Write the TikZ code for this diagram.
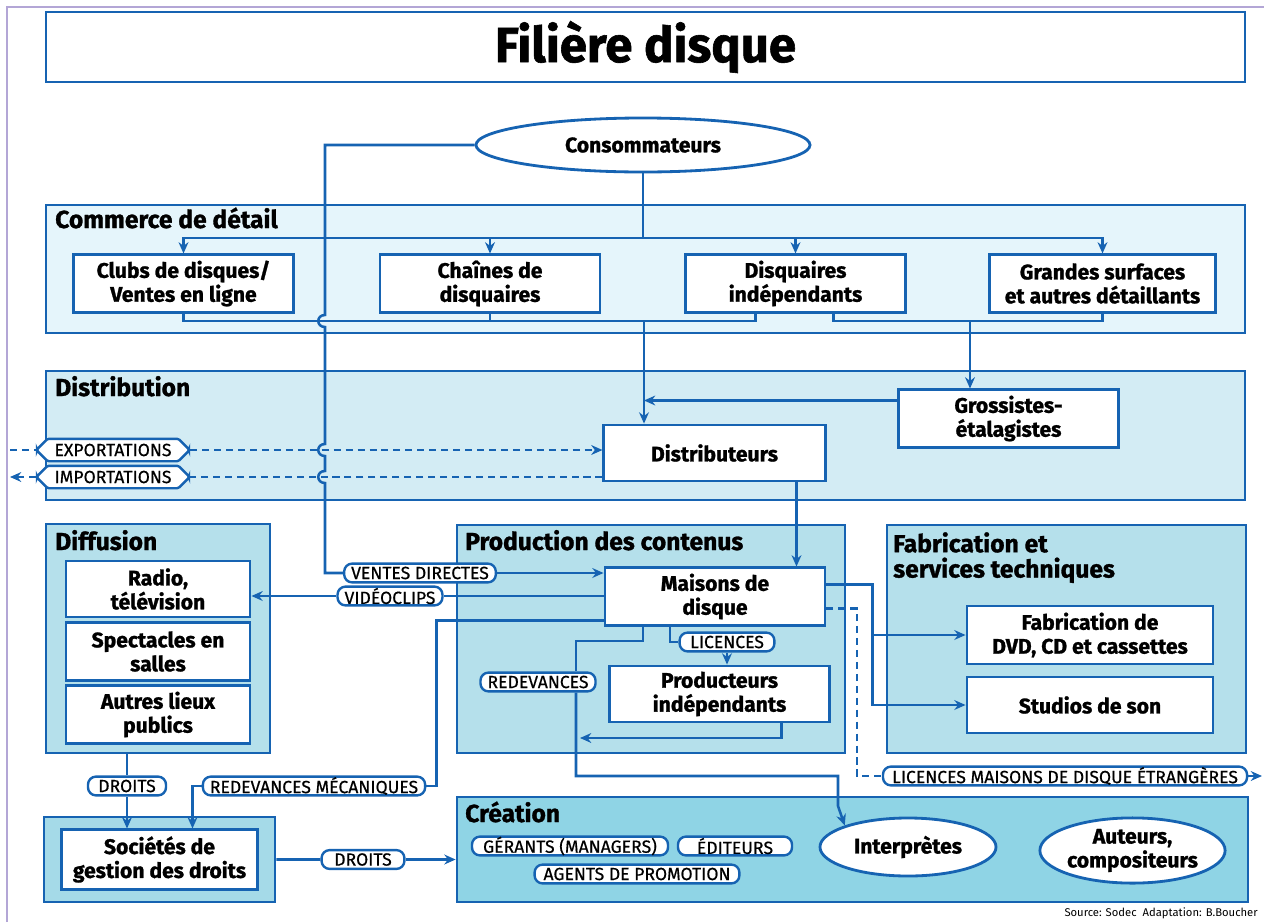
\documentclass[tikz,border=0pt]{standalone}
\usepackage{fontspec}
\setmainfont{Fira Sans}[BoldFeatures={FakeBold=1.2}]
\newfontfamily\etiqfont{Fira Sans}[FakeBold=0.5]
\usetikzlibrary{arrows.meta,calc,fit,shapes.geometric,shapes.misc}

\definecolor{bleu}{HTML}{1663B2}
\definecolor{fondA}{HTML}{E5F5FB}
\definecolor{fondB}{HTML}{D3ECF4}
\definecolor{fondC}{HTML}{B5E0EB}
\definecolor{fondD}{HTML}{A5DAE8}
\definecolor{fondE}{HTML}{8FD4E5}
\definecolor{mauve}{HTML}{B3A6D6}

\tikzset{
  cadre/.style={draw=bleu, line width=2pt, inner sep=0pt},
  boite/.style={draw=bleu, line width=2pt, fill=white, align=center,
    font=\fontsize{15}{17}\selectfont\bfseries, inner sep=2pt},
  bulle/.style={ellipse, draw=bleu, line width=2pt, fill=white, align=center,
    font=\fontsize{15}{17}\selectfont\bfseries, inner sep=0pt},
  etiq/.style={draw=bleu, line width=1.7pt, fill=white, rounded corners=0.2cm,
    font=\fontsize{12.5}{13}\selectfont\etiqfont, inner xsep=5pt, inner ysep=0pt,
    minimum height=0.47cm},
  pointe/.style={etiq, rounded corners=1pt, chamfered rectangle,
    chamfered rectangle xsep=4pt},
  titre/.style={anchor=base west, font=\fontsize{17.5}{19}\selectfont\bfseries,
    inner sep=0pt},
  lien/.style={draw=bleu, line width=1.8pt},
  vers/.style={lien, -{Stealth[length=8pt,width=7pt]}},
  tirets/.style={lien, dash pattern=on 5pt off 3.5pt},
}

\begin{document}
\begin{tikzpicture}[x=0.025cm, y=-0.025cm]
  \useasboundingbox (0,0) rectangle (1264,922);
  \draw[mauve, line width=1pt] (7,922) -- (7,7) -- (1264,7);

  \node[cadre, fill=white, fit={(46,12) (1245,82)}] (entete) {};
  \node[font=\fontsize{35}{38}\selectfont\bfseries] (titre) at (entete.center) {Filière disque};

  \node[cadre, fill=fondA, fit={(46,205) (1245,333)}] (commerce) {};
  \node[cadre, fill=fondB, fit={(46,371) (1245,500)}] (distribution) {};
  \node[cadre, fill=fondC, fit={(46,524) (270,753)}] (diffusion) {};
  \node[cadre, fill=fondC, fit={(457,525) (845,753)}] (production) {};
  \node[cadre, fill=fondC, fit={(887,525) (1246,753)}] (fabrication) {};
  \node[cadre, fill=fondD, fit={(44,817) (275,902)}] (socout) {};
  \node[cadre, fill=fondE, fit={(457,797) (1248,902)}] (creation) {};

  \node[titre] at (55,228) {Commerce de détail};
  \node[titre] at (55,396) {Distribution};
  \node[titre] at (55,550) {Diffusion};
  \node[titre] at (465,550) {Production des contenus};
  \node[titre, anchor=north west, align=left, font=\fontsize{17.5}{18}\selectfont\bfseries]
    at (893,532) {Fabrication et\\services techniques};
  \node[titre] at (465,822) {Création};

  \node[bulle, minimum width=8.35cm, minimum height=1.35cm] (conso) at (643,145) {Consommateurs};

  \node[boite, minimum width=5.48cm, minimum height=1.43cm] (clubs) at (183.5,283.5) {Clubs de disques/\\Ventes en ligne};
  \node[boite, minimum width=5.5cm, minimum height=1.43cm] (chaines) at (490,283.5) {Chaînes de\\disquaires};
  \node[boite, minimum width=5.48cm, minimum height=1.43cm] (disq) at (795.5,283.5) {Disquaires\\indépendants};
  \node[boite, minimum width=5.63cm, minimum height=1.43cm] (grandes) at (1102.5,283.5) {Grandes surfaces\\et autres détaillants};

  \node[boite, minimum width=5.48cm, minimum height=1.43cm] (gross) at (1008.5,418.5) {Grossistes-\\étalagistes};
  \node[boite, minimum width=5.53cm, minimum height=1.4cm] (distrib) at (714.5,453) {Distributeurs};

  \node[boite, minimum width=4.6cm, minimum height=1.4cm] (radio) at (158,589) {Radio,\\télévision};
  \node[boite, minimum width=4.6cm, minimum height=1.43cm] (spect) at (158,651.5) {Spectacles en\\salles};
  \node[boite, minimum width=4.6cm, minimum height=1.43cm] (autres) at (158,714.5) {Autres lieux\\publics};

  \node[boite, minimum width=5.5cm, minimum height=1.43cm] (maisons) at (715,596.5) {Maisons de\\disque};
  \node[boite, minimum width=5.48cm, minimum height=1.4cm] (prodind) at (719.5,694) {Producteurs\\indépendants};

  \node[boite, minimum width=6.15cm, minimum height=1.45cm] (fabdvd) at (1090,635) {Fabrication de\\DVD, CD et cassettes};
  \node[boite, minimum width=6.15cm, minimum height=1.4cm] (studios) at (1090,705) {Studios de son};

  \node[boite, minimum width=4.88cm, minimum height=1.48cm] (societes) at (159.5,859.5) {Sociétés de\\gestion des droits};

  \node[bulle, minimum width=4.4cm, minimum height=1.45cm] (interp) at (908,847) {Interprètes};
  \node[bulle, minimum width=4.63cm, minimum height=1.63cm] (auteurs) at (1132.5,850.5) {Auteurs,\\compositeurs};

  \node[pointe, minimum width=3.8cm] (export) at (113,450) {EXPORTATIONS};
  \node[pointe, minimum width=3.8cm] (import) at (113,477) {IMPORTATIONS};
  \node[etiq] (ventes) at (420,573) {VENTES DIRECTES};
  \node[etiq] (videos) at (390,596) {VIDÉOCLIPS};
  \node[etiq] (redmec) at (314,786) {REDEVANCES MÉCANIQUES};
  \node[etiq, minimum width=1.95cm] (droitsA) at (127,786) {DROITS};
  \node[etiq, minimum width=2.07cm] (droitsB) at (363,859.5) {DROITS};
  \node[etiq, minimum width=2.37cm] (licences) at (727,642) {LICENCES};
  \node[etiq] (redev) at (538,682) {REDEVANCES};
  \node[etiq, minimum width=9.1cm] (licetr) at (1065,776) {LICENCES MAISONS DE DISQUE ÉTRANGÈRES};
  \node[etiq, minimum width=4.9cm] (gerants) at (570,846) {GÉRANTS (MANAGERS)};
  \node[etiq, minimum width=2.85cm] (editeurs) at (735,846) {ÉDITEURS};
  \node[etiq, minimum width=5.12cm] (agents) at (637,874) {AGENTS DE PROMOTION};

  \node[anchor=base east, inner sep=0pt, font=\fontsize{8}{9}\selectfont] (source) at (1258,916)
    {Source: Sodec\ \ Adaptation: B.Boucher};

  \coordinate (haut) at (643,238);
  \draw[lien] (conso.south) -- (haut);
  \draw[vers] (haut) -| (clubs.north);
  \draw[vers] (haut) -| (chaines.north);
  \draw[vers] (haut) -| (disq.north);
  \draw[vers] (haut) -| (grandes.north);

  \coordinate (retG) at (644,321);
  \coordinate (retD) at (970,321);
  \draw[lien] (clubs.south) |- (retG) -| ($(disq.south)+(-40,0)$);
  \draw[lien] (chaines.south) -- (chaines.south |- retG);
  \draw[vers] (retG) -- (retG |- distrib.north);
  \draw[lien] ($(disq.south)+(38,0)$) |- (retD) -| (grandes.south);
  \draw[vers] (retD) -- (retD |- gross.north);
  \coordinate (gw) at ($(gross.west)+(0,-18)$);
  \draw[vers] (gw) -- (gw -| retG);

  \coordinate (dm) at ($(distrib.south)+(82,0)$);
  \draw[vers] (dm) -- (dm |- maisons.north);

  \coordinate (bordE) at (10,450);
  \coordinate (bordI) at (10,477);
  \draw[tirets] (bordE) -- (export.west);
  \draw[tirets, -{Stealth[length=8pt,width=7pt]}] (export.east) -- (export.east -| distrib.west);
  \draw[tirets] (import.east -| distrib.west) -- (import.east);
  \draw[tirets, -{Stealth[length=8pt,width=7pt]}] (import.west) -- (bordI);

  \draw[lien] (conso.west) -| (325,315)
    .. controls (316,315) and (316,327) .. (325,327) -- (325,444)
    .. controls (316,444) and (316,456) .. (325,456) -- (325,471)
    .. controls (316,471) and (316,483) .. (325,483) |- (ventes.west);
  \draw[vers] (ventes.east) -- (ventes.east -| maisons.west);
  \draw[lien] (maisons.west |- videos) -- (videos.east);
  \draw[vers] (videos.west) -- (videos.west -| radio.east);

  \coordinate (mr) at ($(maisons.west)+(0,24)$);
  \draw[lien] (mr) -| ($(redmec.east)+(10,0)$) -- (redmec.east);
  \draw[vers] (redmec.west) -| ($(societes.north)+(33,0)$);
  \draw[lien] (droitsA.north |- diffusion.south) -- (droitsA.north);
  \draw[vers] (droitsA.south) -- (droitsA.south |- societes.north);
  \draw[lien] (socout.east) -- (droitsB.west);
  \draw[vers] (droitsB.east) -- (droitsB.east -| creation.west);

  \coordinate (ml) at ($(maisons.south)+(-45,0)$);
  \draw[lien] (ml) |- (licences.west);
  \draw[vers] (licences.south) -- (licences.south |- prodind.north);

  \coordinate (mrv) at ($(maisons.south)+(-72,0)$);
  \coordinate (rv1) at (576,641);
  \coordinate (rv2) at (838,776);
  \coordinate (rv3) at (580,738);
  \draw[lien] (mrv) |- (rv1) -- (rv1 |- redev.north);
  \draw[vers] (rv1 |- redev.south) |- (rv2) -- ($(rv2)+(0,30)$) -- (interp.north west);
  \draw[vers] ($(prodind.south)+(62,0)$) |- (rv3);

  \coordinate (mf) at ($(maisons.east)+(0,-12)$);
  \coordinate (fx) at ($(fabdvd.west)+(-93,0)$);
  \draw[lien] (mf) -| (fx);
  \draw[vers] (fx) -- (fabdvd.west);
  \draw[vers] (fx) |- (studios.west);

  \coordinate (me) at ($(maisons.east)+(0,12)$);
  \coordinate (bordL) at (1262,776);
  \draw[tirets] (me) -| ($(licetr.west)+(-25,0)$) -- (licetr.west);
  \draw[vers] (licetr.east) -- (bordL);
\end{tikzpicture}
\end{document}
